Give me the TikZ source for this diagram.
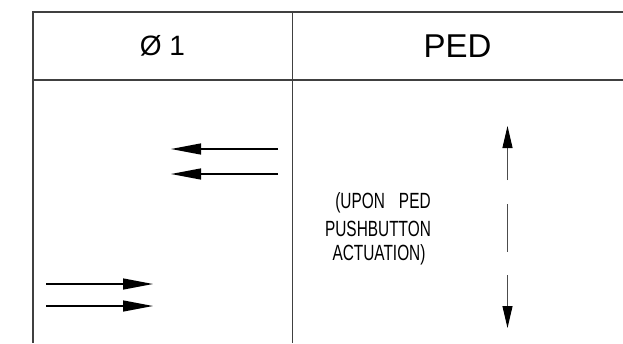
\documentclass[tikz,border=0pt]{standalone}
\usepackage{fontspec}
\setmainfont{Liberation Sans}
\newfontfamily\estrecha[FakeStretch=0.7]{Liberation Sans}
\usetikzlibrary{arrows.meta}

\begin{document}
\begin{tikzpicture}[x=1pt,y=-1pt,line width=1.3pt,>={Triangle[length=30pt,width=11pt]},
    borde/.style={black!75,line width=1.8pt},
    nota/.style={inner sep=0pt,font=\estrecha\fontsize{22}{22}\selectfont},
    vflecha/.style={black!70,line width=1pt,-{Triangle[length=22pt,width=10pt,color=black]}}]
  \useasboundingbox (0,0) rectangle (623,343);
  % tabla
  \draw[borde] (623,12) -- (33,12) -- (33,343);
  \draw[borde] (33,80) -- (623,80);
  \draw[borde] (292.5,12) -- (292.5,343);
  % encabezados
  \node (fase) at (162.5,46) {\fontsize{28}{28}\selectfont Ø 1};
  \node (ped) at (457.5,46) {\fontsize{33}{33}\selectfont PED};
  % flechas fase 1
  \coordinate (i1) at (278,149); \coordinate (f1) at (171,149);
  \coordinate (i2) at (278,174); \coordinate (f2) at (171,174);
  \coordinate (i3) at (46,284);  \coordinate (f3) at (153,284);
  \coordinate (i4) at (46,306);  \coordinate (f4) at (153,306);
  \draw[->] (i1) -- (f1);
  \draw[->] (i2) -- (f2);
  \draw[->] (i3) -- (f3);
  \draw[->] (i4) -- (f4);
  % peatonal
  \node[nota] (nota1) at (383,203) {(UPON\hspace{14pt}PED};
  \node[nota] (nota2) at (378,229) {PUSHBUTTON};
  \node[nota] (nota3) at (379,255) {ACTUATION)};
  \coordinate (s1) at (507.5,180); \coordinate (s2) at (507.5,126);
  \coordinate (m1) at (507.5,204); \coordinate (m2) at (507.5,252);
  \coordinate (b1) at (507.5,275); \coordinate (b2) at (507.5,328);
  \draw[vflecha] (s1) -- (s2);
  \draw[black!70,line width=1pt] (m1) -- (m2);
  \draw[vflecha] (b1) -- (b2);
\end{tikzpicture}
\end{document}
